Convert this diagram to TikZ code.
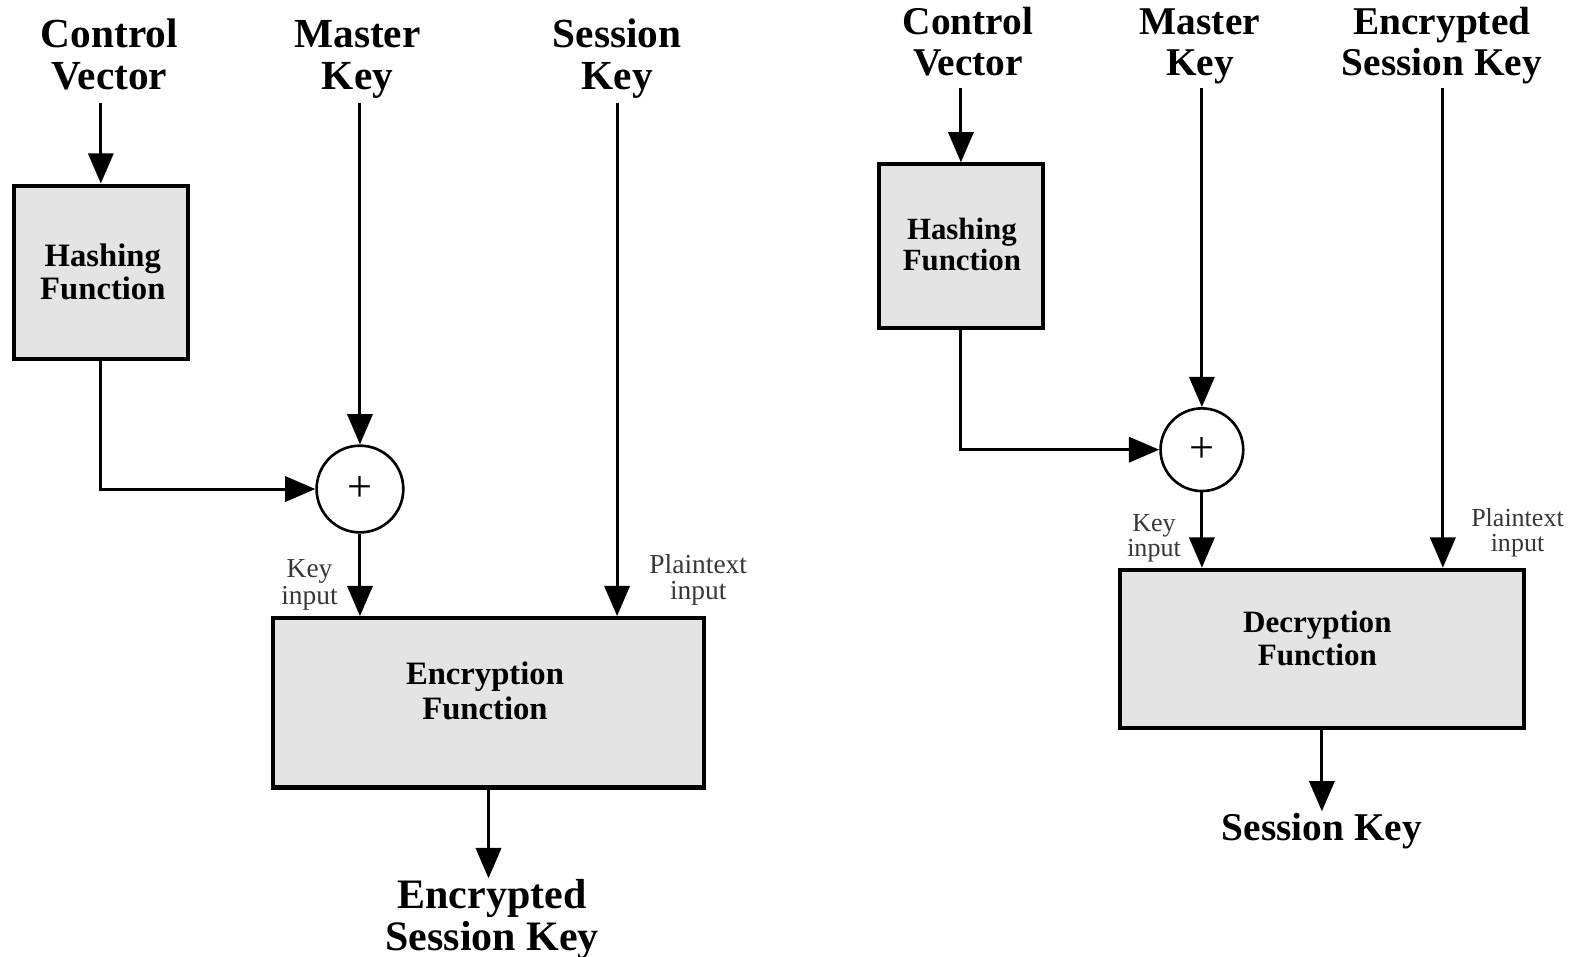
\documentclass[tikz,border=0pt]{standalone}
\usepackage{fontspec}
\setmainfont{Liberation Serif}
\usetikzlibrary{arrows.meta}
\definecolor{boxgray}{RGB}{228,228,228}
\definecolor{lblgray}{RGB}{55,55,55}

\begin{document}
\begin{tikzpicture}[x=0.5pt,y=-0.5pt,
  wire/.style={line width=1.5pt},
  arr/.style={wire,-{Triangle[length=15pt,width=12.5pt]}},
  fnbox/.style={draw,line width=2pt,fill=boxgray,rectangle,inner sep=0pt},
  xorc/.style={draw,line width=1.3pt,fill=white,circle,inner sep=0pt,
    font=\fontsize{22}{22}\selectfont},
  ttlL/.style={font=\bfseries\fontsize{20.5}{21.1}\selectfont,align=center,inner sep=0pt,anchor=north},
  ttlR/.style={font=\bfseries\fontsize{19.5}{20.3}\selectfont,align=center,inner sep=0pt,anchor=north},
  outL/.style={font=\bfseries\fontsize{20.8}{21}\selectfont,align=center,inner sep=0pt,anchor=north},
  lblL/.style={font=\fontsize{13.6}{13.2}\selectfont,text=lblgray,align=center,inner sep=0pt},
  lblR/.style={font=\fontsize{12.9}{12.4}\selectfont,text=lblgray,align=center,inner sep=0pt},
  btxt/.style={align=center,inner sep=0pt}
]
\path[fill=white] (0,0) rectangle (1568,949);
\useasboundingbox (0,0) rectangle (1568,949);

% ---------- encryption side ----------
\node[ttlL] (cv1) at (108.5,16.8) {\strut Control\\\strut Vector};
\node[ttlL] (mk1) at (354.5,16.8) {\strut Master\\\strut Key};
\node[ttlL] (sk1) at (612,16.8) {\strut Session\\\strut Key};

\node[fnbox,minimum width=86pt,minimum height=86pt] (h1) at (100,270) {};
\node[btxt,font=\bfseries\fontsize{16.2}{16.5}\selectfont] (h1t) at (102,274) {\strut Hashing\\\strut Function};

\node[xorc,minimum size=43pt] (x1) at (357,485) {+};

\node[fnbox,minimum width=213.5pt,minimum height=84pt] (enc) at (484.5,697) {};
\node[btxt,font=\bfseries\fontsize{16.2}{17.4}\selectfont] (enct) at (481,689.5) {\strut Encryption\\\strut Function};

\node[outL] (esk1) at (488,871) {\strut Encrypted\\\strut Session Key};

\node[lblL] (ki1) at (307,581) {\strut Key\\\strut input};
\node[lblL] (pi1) at (692.5,576) {\strut Plaintext\\\strut input};

\draw[arr] (h1.north |- cv1.south) -- (h1.north);
\draw[arr] (x1.north |- mk1.south) -- (x1.north);
\draw[arr] (h1.south) |- (x1.west);
\draw[arr] (x1.south) -- (x1.south |- enc.north);
\draw[arr] (sk1.south) -- (sk1.south |- enc.north);
\draw[arr] (enc.south) -- (enc.south |- esk1.north);

% ---------- decryption side ----------
\node[ttlR] (cv2) at (960,5) {\strut Control\\\strut Vector};
\node[ttlR] (mk2) at (1190,5) {\strut Master\\\strut Key};
\node[ttlR] (esk2) at (1430,5) {\strut Encrypted\\\strut Session Key};

\node[fnbox,minimum width=81pt,minimum height=81pt] (h2) at (953,244) {};
\node[btxt,font=\bfseries\fontsize{15.3}{15.3}\selectfont] (h2t) at (954,247) {\strut Hashing\\\strut Function};

\node[xorc,minimum size=41pt] (x2) at (1192,446) {+};

\node[fnbox,minimum width=200pt,minimum height=78.5pt] (dec) at (1311,643.5) {};
\node[btxt,font=\bfseries\fontsize{15.4}{16.5}\selectfont] (dect) at (1306.5,636.7) {\strut Decryption\\\strut Function};

\node[ttlR] (sk2) at (1311,804.6) {\strut Session Key};

\node[lblR] (ki2) at (1144.5,534.4) {\strut Key\\\strut input};
\node[lblR] (pi2) at (1505,529.7) {\strut Plaintext\\\strut input};

\draw[arr] (h2.north |- cv2.south) -- (h2.north);
\draw[arr] (x2.north |- mk2.south) -- (x2.north);
\draw[arr] (h2.south) |- (x2.west);
\draw[arr] (x2.south) -- (x2.south |- dec.north);
\draw[arr] ([xshift=0.5pt]esk2.south) -- ([xshift=0.5pt]esk2.south |- dec.north);
\draw[arr] (dec.south) -- (dec.south |- sk2.north);
\end{tikzpicture}
\end{document}
